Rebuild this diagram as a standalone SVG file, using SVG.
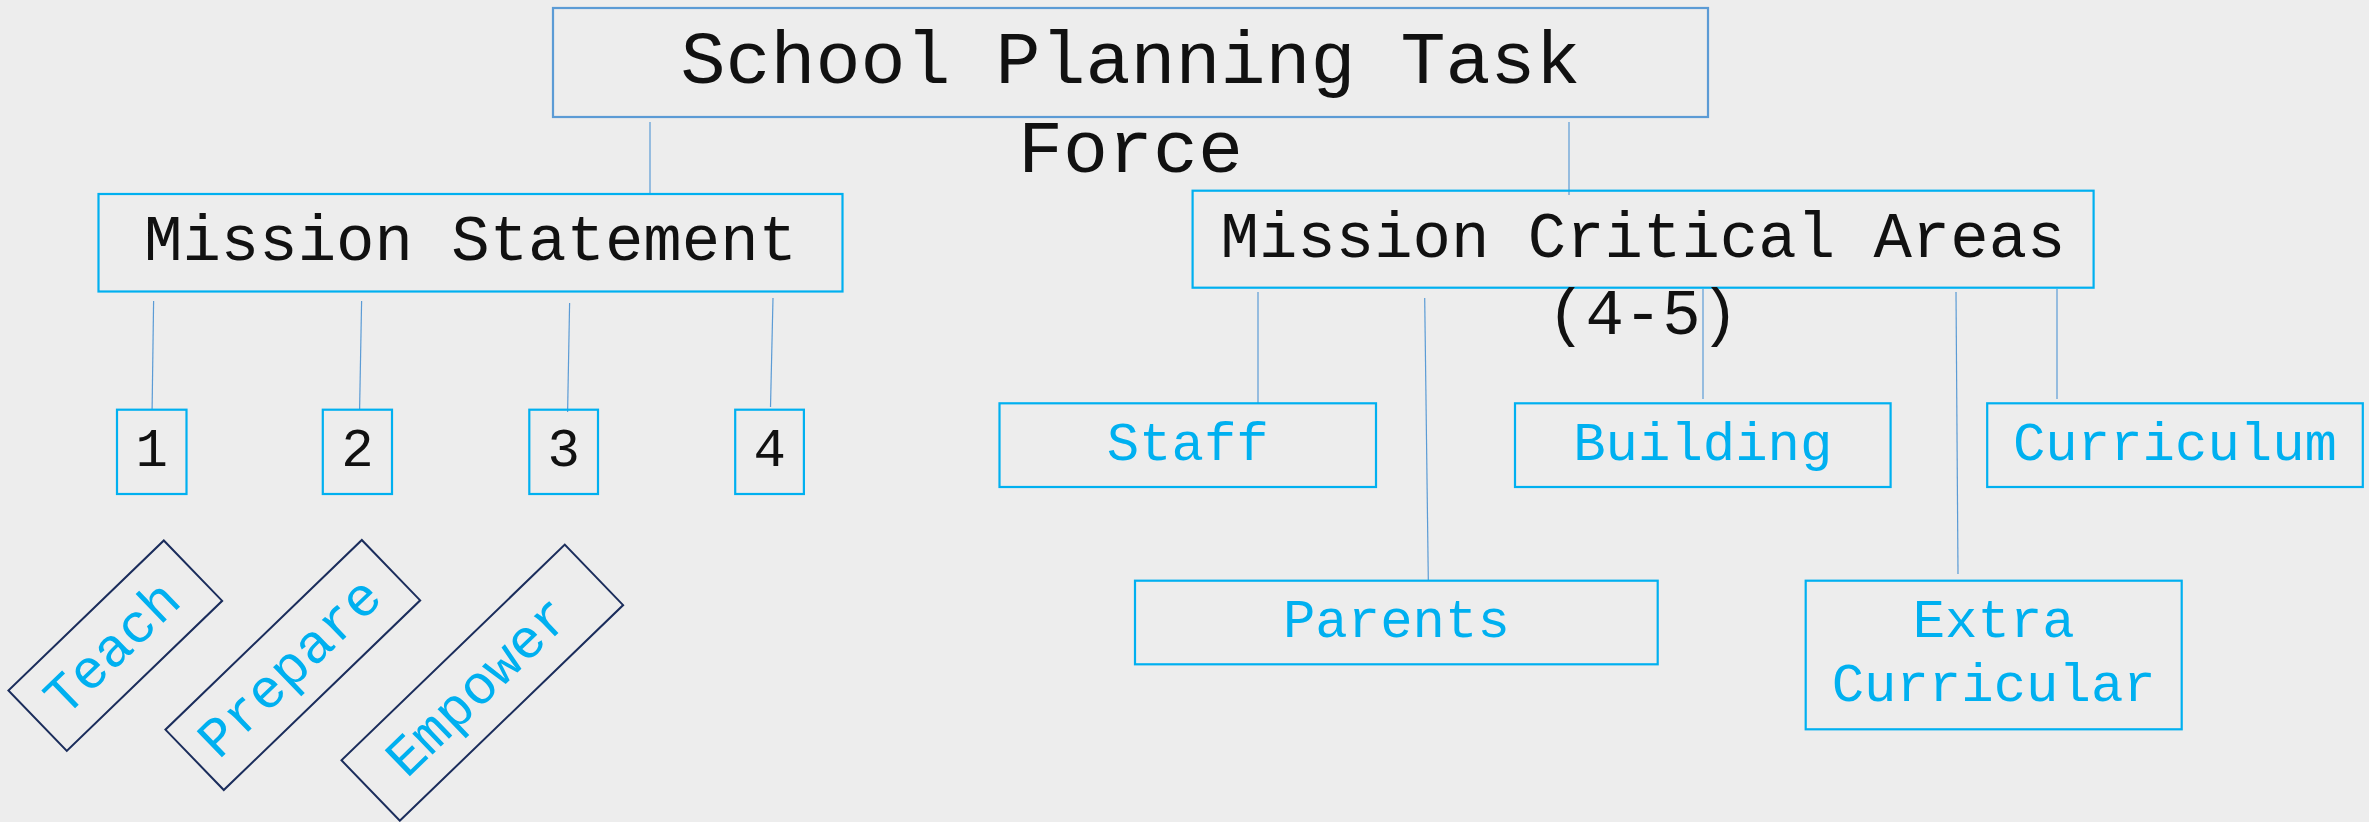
<svg xmlns="http://www.w3.org/2000/svg" width="2369" height="822" viewBox="0 0 2369 822">
<style>
.bg{fill:#ededed}
.box{fill:none;stroke:#00b0f0;stroke-width:2.2}
.top{fill:none;stroke:#5b9bd5;stroke-width:2.2}
.rot{fill:none;stroke:#1b2d5c;stroke-width:2}
.con line{stroke:#5b9bd5;stroke-width:1.2}
text{font-family:"Liberation Mono","Courier New",monospace}
.dk{fill:#111}
.bl{fill:#00b0f0}
.c{text-anchor:middle}
</style>
<rect class="bg" x="0" y="0" width="2369" height="822"/>
<g id="connectors" class="con">
<line x1="650" y1="122" x2="650" y2="193"/>
<line x1="1569" y1="122" x2="1569" y2="195"/>
<line x1="153.6" y1="301" x2="152.1" y2="409"/>
<line x1="361.6" y1="301" x2="359.6" y2="409"/>
<line x1="569.6" y1="303" x2="567.6" y2="412"/>
<line x1="773" y1="298" x2="770.5" y2="407"/>
<line x1="1258" y1="292" x2="1258" y2="403"/>
<line x1="1424.7" y1="298" x2="1428.3" y2="580"/>
<line x1="1703" y1="289" x2="1703" y2="399"/>
<line x1="1956" y1="292" x2="1958" y2="574"/>
<line x1="2057" y1="289" x2="2057" y2="399"/>
</g>
<g id="title">
<rect class="top" x="553" y="8" width="1155" height="109"/>
<text class="dk c" x="1130.5" y="83" font-size="75">School Planning Task</text>
<text class="dk c" x="1130.5" y="172" font-size="75">Force</text>
</g>
<g id="mission-statement">
<rect class="box" x="98.5" y="194" width="744" height="97.5"/>
<text class="dk c" x="470.5" y="260" font-size="64">Mission Statement</text>
</g>
<g id="mission-critical-areas">
<rect class="box" x="1192.6" y="190.7" width="901" height="97"/>
<text class="dk c" x="1643" y="257" font-size="64">Mission Critical Areas</text>
<text class="dk c" x="1643" y="334" font-size="64">(4-5)</text>
</g>
<g id="n1">
<rect class="box" x="117" y="409.7" width="69.5" height="84.3"/>
<text class="dk c" x="151.8" y="466" font-size="54">1</text>
</g>
<g id="n2">
<rect class="box" x="322.8" y="409.7" width="69.2" height="84.3"/>
<text class="dk c" x="357.4" y="466" font-size="54">2</text>
</g>
<g id="n3">
<rect class="box" x="529.3" y="409.7" width="68.7" height="84.3"/>
<text class="dk c" x="563.7" y="466" font-size="54">3</text>
</g>
<g id="n4">
<rect class="box" x="735.2" y="409.7" width="68.7" height="84.3"/>
<text class="dk c" x="769.6" y="466" font-size="54">4</text>
</g>
<g id="teach" transform="translate(115.3 645.7) rotate(-44)">
<rect class="rot" x="-108" y="-42" width="216" height="84"/>
<text class="bl c" x="-4" y="17" font-size="55">Teach</text>
</g>
<g id="prepare" transform="translate(292.8 665) rotate(-44)">
<rect class="rot" x="-136.5" y="-42" width="273" height="84"/>
<text class="bl c" x="-4" y="17" font-size="55">Prepare</text>
</g>
<g id="empower" transform="translate(482.3 682.7) rotate(-44)">
<rect class="rot" x="-155.2" y="-42" width="310.4" height="84"/>
<text class="bl c" x="-6" y="17" font-size="55">Empower</text>
</g>
<g id="staff">
<rect class="box" x="999.5" y="403.3" width="376.5" height="83.7"/>
<text class="bl c" x="1187.7" y="459.5" font-size="54">Staff</text>
</g>
<g id="building">
<rect class="box" x="1515" y="403.3" width="375.6" height="83.7"/>
<text class="bl c" x="1702.8" y="459.5" font-size="54">Building</text>
</g>
<g id="curriculum">
<rect class="box" x="1987.2" y="403.3" width="375.6" height="83.7"/>
<text class="bl c" x="2175" y="459.5" font-size="54">Curriculum</text>
</g>
<g id="parents">
<rect class="box" x="1135" y="580.7" width="522.7" height="83.6"/>
<text class="bl c" x="1396.4" y="637" font-size="54">Parents</text>
</g>
<g id="extra-curricular">
<rect class="box" x="1805.7" y="580.7" width="376" height="148.6"/>
<text class="bl c" x="1993.7" y="637" font-size="54">Extra</text>
<text class="bl c" x="1993.7" y="701" font-size="54">Curricular</text>
</g>
</svg>
